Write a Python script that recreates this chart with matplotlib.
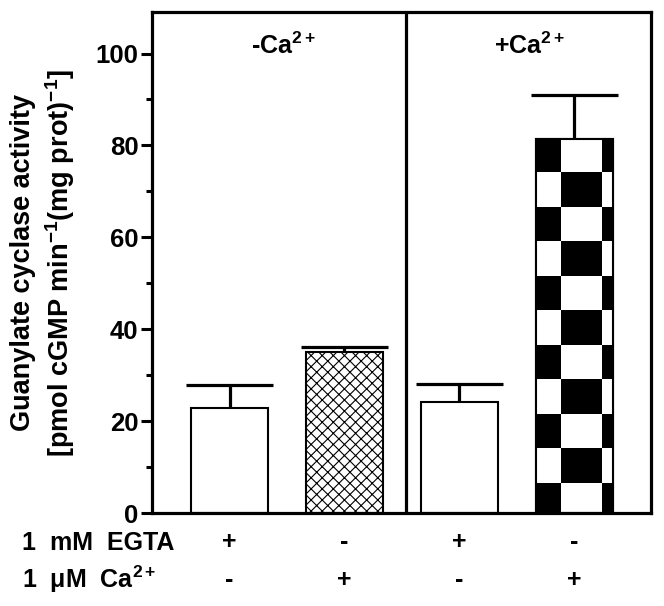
import numpy as np
import matplotlib.pyplot as plt

plt.rcParams['font.family'] = ['Liberation Sans', 'DejaVu Sans']
plt.rcParams['font.weight'] = 'bold'
plt.rcParams['mathtext.fontset'] = 'custom'
plt.rcParams['mathtext.rm'] = 'Liberation Sans:bold'
plt.rcParams['mathtext.it'] = 'Liberation Sans:bold'
plt.rcParams['mathtext.bf'] = 'Liberation Sans:bold'
plt.rcParams['hatch.linewidth'] = 0.8

# data
positions = [1, 2, 3, 4]
means = [23.0, 35.0, 24.2, 81.5]
errors = [5.0, 1.2, 4.0, 9.5]
egta_signs = ['+', '-', '+', '-']
ca_signs = ['-', '+', '-', '+']
group_labels = ['-Ca$^{\\mathregular{2+}}$', '+Ca$^{\\mathregular{2+}}$']
ylabel = 'Guanylate cyclase activity\n[pmol cGMP min$^{\\mathregular{-1}}$(mg prot)$^{\\mathregular{-1}}$]'

fig = plt.figure(figsize=(6.64, 6.06), dpi=100)
ax = fig.add_axes([0.229, 0.153, 0.751, 0.827])

bars = ax.bar(positions, means, width=0.67, color='white', edgecolor='black',
              linewidth=1.5, zorder=2)
bars[1].set_hatch('xxx')

# upper error bars only
tops = np.array(means) + np.array(errors)
ax.vlines(positions, means, tops, color='black', linewidth=2.3, zorder=3)
ax.hlines(tops, np.array(positions) - 0.378, np.array(positions) + 0.378,
          color='black', linewidth=2.3, zorder=3)

# checkerboard fill for the last bar, clipped to the bar outline
b = bars[3]
cell_w, cell_h = 0.348, 7.5
x0 = b.get_x() + 0.217 - cell_w
y0 = -0.9
nx, ny = 4, 13
checker = (np.add.outer(np.arange(ny), np.arange(nx)) % 2 == 0).astype(float)
img = ax.imshow(checker, cmap='gray_r', origin='lower', interpolation='nearest',
                extent=(x0, x0 + nx * cell_w, y0, y0 + ny * cell_h),
                aspect='auto', zorder=2.5, vmin=0, vmax=1)
img.set_clip_path(b)
ax.add_patch(plt.Rectangle((b.get_x(), 0), b.get_width(), b.get_height(),
                           fill=False, edgecolor='black', linewidth=1.5, zorder=2.6))

divider = 2.535
ax.axvline(divider, color='black', linewidth=2.3, zorder=4)

ax.set_xlim(0.326, 4.665)
ax.set_ylim(0, 109)
ax.set_yticks([0, 20, 40, 60, 80, 100])
ax.set_yticks([10, 30, 50, 70, 90], minor=True)
ax.set_xticks([])
ax.tick_params(axis='y', which='major', length=7.7, width=2.2, labelsize=18.5, pad=2)
ax.tick_params(axis='y', which='minor', length=4.3, width=2.2)
for s in ax.spines.values():
    s.set_linewidth(2.3)

ax.set_ylabel(ylabel, fontsize=19.5, fontweight='bold', linespacing=1.3)
ax.yaxis.set_label_coords(-0.15, 0.5)

ax.text(1.465, 100, group_labels[0], ha='center', va='baseline',
        fontsize=18, fontweight='bold')
ax.text(3.613, 100, group_labels[1], ha='center', va='baseline',
        fontsize=18, fontweight='bold')

tr = ax.get_xaxis_transform()
for x, e, c in zip(positions, egta_signs, ca_signs):
    ax.text(x, -0.058, e, transform=tr, ha='center', va='center', fontsize=18,
            fontweight='bold', clip_on=False)
    ax.text(x, -0.134, c, transform=tr, ha='center', va='center', fontsize=18,
            fontweight='bold', clip_on=False)

fig.text(22 / 664, (606 - 550) / 606, '1  mM  EGTA', ha='left', va='baseline',
         fontsize=18, fontweight='bold')
fig.text(22 / 664, (606 - 588) / 606, '1  \u03bcM  Ca$^{\\mathregular{2+}}$', ha='left',
         va='baseline', fontsize=18, fontweight='bold')

fig.savefig('out.png', dpi=100)
